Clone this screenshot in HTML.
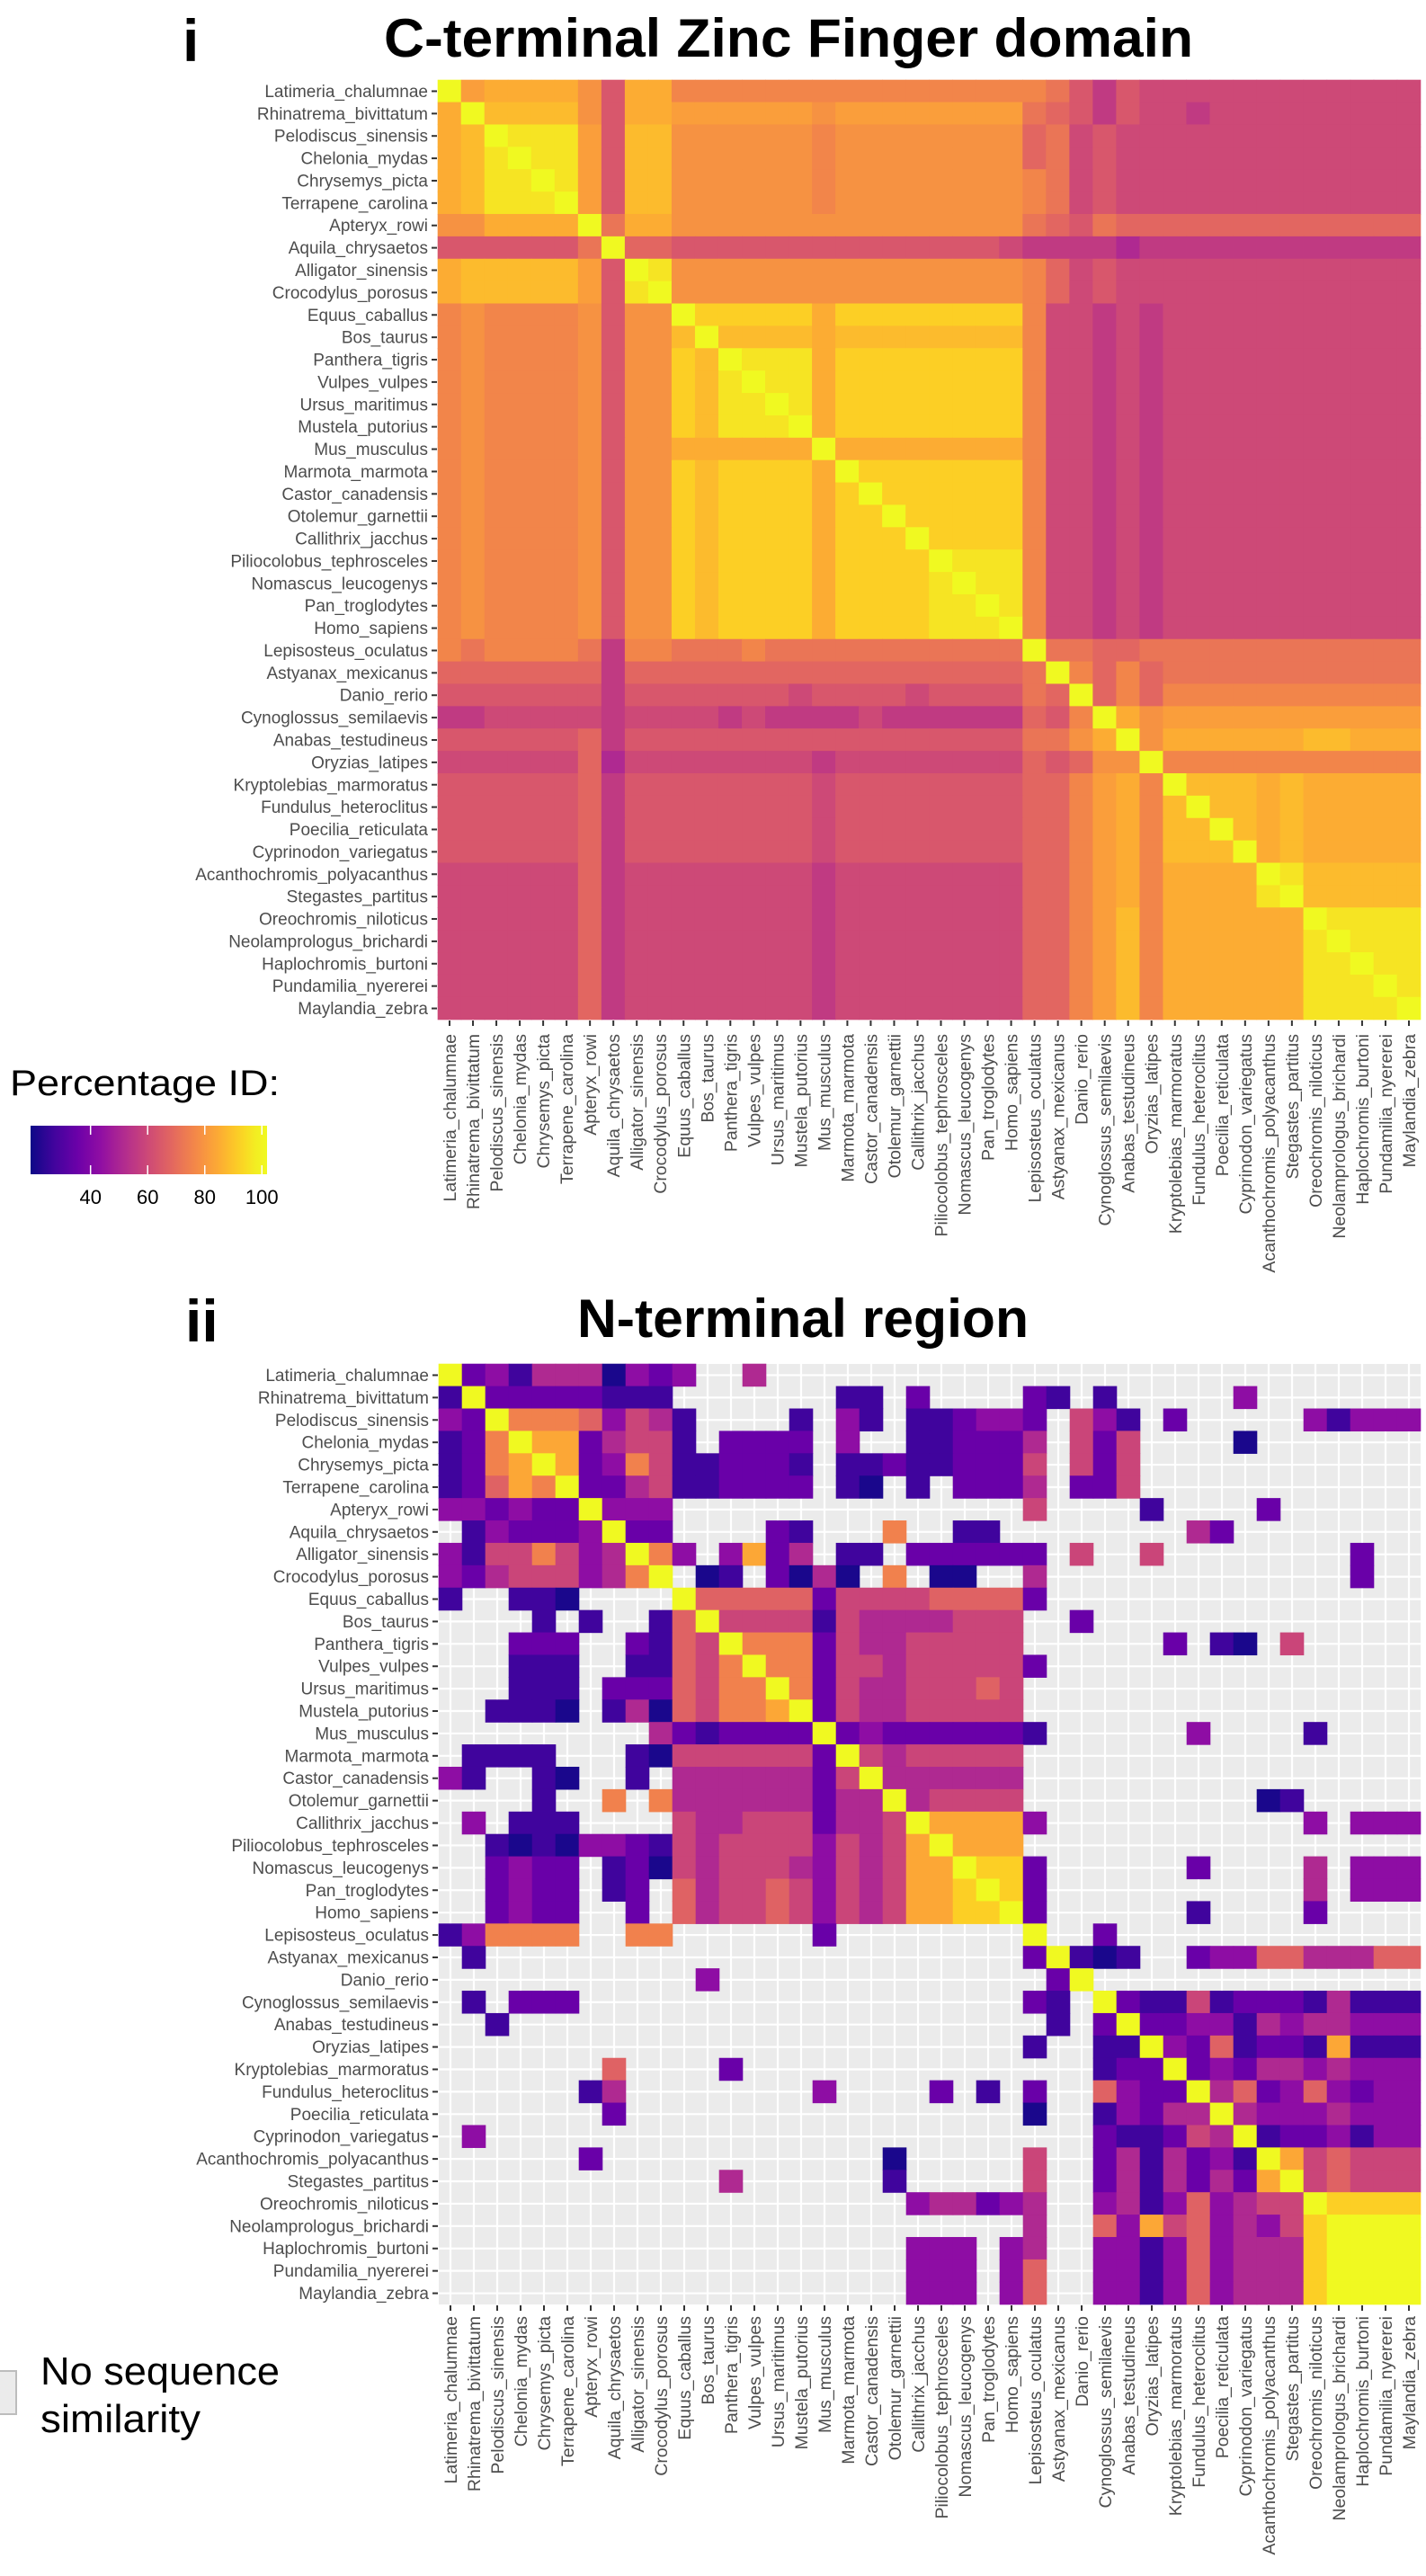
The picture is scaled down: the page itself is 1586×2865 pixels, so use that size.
<!DOCTYPE html>
<html><head><meta charset="utf-8"><title>Percentage ID heatmaps</title>
<style>
html,body{margin:0;padding:0;background:#fff;}
svg{display:block;}
text{font-family:"Liberation Sans",Arial,sans-serif;}
</style></head>
<body>
<svg id="chart" xmlns="http://www.w3.org/2000/svg" width="1586" height="2865" viewBox="0 0 1586 2865">
  <defs>
    <linearGradient id="plasmaGrad" x1="0" x2="1" y1="0" y2="0"></linearGradient>
  </defs>
  <text x="203" y="68" font-size="66" font-weight="bold" fill="#000">i</text>
  <text x="427" y="63" font-size="60" font-weight="bold" fill="#000" textLength="900" lengthAdjust="spacingAndGlyphs">C-terminal Zinc Finger domain</text>
  <text x="206" y="1492" font-size="66" font-weight="bold" fill="#000">ii</text>
  <text x="642" y="1487" font-size="60" font-weight="bold" fill="#000" textLength="502" lengthAdjust="spacingAndGlyphs">N-terminal region</text>
  <g id="heat1"></g>
  <g id="heat2"></g>
  <g id="legend1">
    <text x="11" y="1218" font-size="40" fill="#000" textLength="300" lengthAdjust="spacingAndGlyphs">Percentage ID:</text>
    <rect x="34" y="1252" width="263" height="54" fill="url(#plasmaGrad)"></rect>
  </g>
  <g id="legend2">
    <rect x="-2" y="2637" width="20" height="48" fill="#ebebeb" stroke="#bdbdbd" stroke-width="2"></rect>
    <text x="45" y="2652" font-size="44" fill="#000" textLength="266" lengthAdjust="spacingAndGlyphs">No sequence</text>
    <text x="45" y="2705" font-size="44" fill="#000" textLength="178" lengthAdjust="spacingAndGlyphs">similarity</text>
  </g>
</svg>
<script>
// ---------- DATA ----------
const species = ["Latimeria_chalumnae","Rhinatrema_bivittatum","Pelodiscus_sinensis","Chelonia_mydas","Chrysemys_picta","Terrapene_carolina","Apteryx_rowi","Aquila_chrysaetos","Alligator_sinensis","Crocodylus_porosus","Equus_caballus","Bos_taurus","Panthera_tigris","Vulpes_vulpes","Ursus_maritimus","Mustela_putorius","Mus_musculus","Marmota_marmota","Castor_canadensis","Otolemur_garnettii","Callithrix_jacchus","Piliocolobus_tephrosceles","Nomascus_leucogenys","Pan_troglodytes","Homo_sapiens","Lepisosteus_oculatus","Astyanax_mexicanus","Danio_rerio","Cynoglossus_semilaevis","Anabas_testudineus","Oryzias_latipes","Kryptolebias_marmoratus","Fundulus_heteroclitus","Poecilia_reticulata","Cyprinodon_variegatus","Acanthochromis_polyacanthus","Stegastes_partitus","Oreochromis_niloticus","Neolamprologus_brichardi","Haplochromis_burtoni","Pundamilia_nyererei","Maylandia_zebra"];

// percentage ID value for each cell code (C-terminal panel)
const cCodes = {Y:100,x:96,w:92,v:88,u:85,t:82,s:79,r:76,q:72,p:68,o:64,n:60,m:56,l:51};
// percentage ID value for each cell code (N-terminal panel), '.' = no similarity
const nCodes = {"0":21,"1":27,"2":35,"3":43,"4":51,"5":59,"6":67,"7":75,"8":84,"9":92,"Y":100};

const cTermRows = [
"Ytuuuusouu"+"rrrrrrrrrrrrrrr"+"rqomo"+"nnnnnnnnnnnn",
"uYvvvvsouu"+"ttttttstttttttt"+"qpomo"+"nnmnnnnnnnnn",
"uvYxxxtovv"+"ssssssrssssssss"+"pqnon"+"nnnnnnnnnnnn",
"uvxYxxtovv"+"ssssssrssssssss"+"pqnon"+"nnnnnnnnnnnn",
"uvxxYxtovv"+"ssssssrssssssss"+"rqnon"+"nnnnnnnnnnnn",
"uvxxxYtovv"+"ssssssrssssssss"+"rqnon"+"nnnnnnnnnnnn",
"ssuuuuYquu"+"sssssssssssssss"+"qpoqp"+"pppppppppppp",
"ooooooqYpp"+"oooooooooooooon"+"mmmml"+"mmmmmmmmmmmm",
"uvvvvvtoYx"+"sssssssssssssss"+"rpnon"+"nnnnnnnnnnnn",
"uvvvvvtoxY"+"sssssssssssssss"+"rpnon"+"nnnnnnnnnnnn",
"rsrrrrsoss"+"Ywwwwwuwwwwwwww"+"rnnmnmnnnnnnnnnnn",
"rsrrrrsoss"+"vYvvvvuvvvvvvvv"+"rnnmnmnnnnnnnnnnn",
"rsrrrrsoss"+"wvYxxxuwwwwwwww"+"rnnmnmnnnnnnnnnnn",
"rsrrrrsoss"+"wvxYxxuwwwwwwww"+"rnnmnmnnnnnnnnnnn",
"rsrrrrsoss"+"wvxxYxuwwwwwwww"+"rnnmnmnnnnnnnnnnn",
"rsrrrrsoss"+"wvxxxYuwwwwwwww"+"rnnmnmnnnnnnnnnnn",
"rsrrrrsoss"+"uuuuuuYuuuuuuuu"+"rnnmnmnnnnnnnnnnn",
"rsrrrrsoss"+"wvwwwwuYwwwwwww"+"rnnmnmnnnnnnnnnnn",
"rsrrrrsoss"+"wvwwwwuwYwwwwww"+"rnnmnmnnnnnnnnnnn",
"rsrrrrsoss"+"wvwwwwuwwYwwwww"+"rnnmnmnnnnnnnnnnn",
"rsrrrrsoss"+"wvwwwwuwwwYwwww"+"rnnmnmnnnnnnnnnnn",
"rsrrrrsoss"+"wvwwwwuwwwwYxxx"+"rnnmnmnnnnnnnnnnn",
"rsrrrrsoss"+"wvwwwwuwwwwxYxx"+"rnnmnmnnnnnnnnnnn",
"rsrrrrsoss"+"wvwwwwuwwwwxxYx"+"rnnmnmnnnnnnnnnnn",
"rsrrrrsoss"+"wvwwwwuwwwwxxxY"+"rnnmnmnnnnnnnnnnn",
"rqrrrrqmrr"+"qqqrqqqqqqqqqqq"+"Yqqpp"+"qqqqqqqqqqqq",
"pppppppmpp"+"ppppppppppppppp"+"qYrpr"+"pqqqqqqqqqqq",
"ooooooomoo"+"ooooonoooonoooo"+"qpYpr"+"prrrrrrrrrrr",
"mmnnnnnmnn"+"nnmnmmmmnmmmmmm"+"porYu"+"sttttttttttt",
"oooooopmoo"+"ooooooooooooooo"+"qqsuY"+"suuuuuuvvuuu",
"nnnnnnplnn"+"nnnnnnmnnnnnnnn"+"popss"+"Yrrrrrrrrrrr",
"oooooopmoo"+"oooooonoooooooo"+"pprtu"+"r"+"Yvvv"+"uv"+"uuuuu",
"oooooopmoo"+"oooooonoooooooo"+"pprtu"+"r"+"vYvv"+"uv"+"uuuuu",
"oooooopmoo"+"oooooonoooooooo"+"pprtu"+"r"+"vvYv"+"uv"+"uuuuu",
"oooooopmoo"+"oooooonoooooooo"+"pprtu"+"r"+"vvvY"+"uv"+"uuuuu",
"nnnnnnpmnn"+"nnnnnnmnnnnnnnn"+"pprtu"+"r"+"uuuu"+"Yx"+"vvvvv",
"nnnnnnpmnn"+"nnnnnnmnnnnnnnn"+"pprtu"+"r"+"uuuu"+"xY"+"vvvvv",
"nnnnnnpmnn"+"nnnnnnmnnnnnnnn"+"pprtv"+"r"+"uuuu"+"uu"+"Yxxxx",
"nnnnnnpmnn"+"nnnnnnmnnnnnnnn"+"pprtv"+"r"+"uuuu"+"uu"+"xYxxx",
"nnnnnnpmnn"+"nnnnnnmnnnnnnnn"+"pprtv"+"r"+"uuuu"+"uu"+"xxYxx",
"nnnnnnpmnn"+"nnnnnnmnnnnnnnn"+"pprtv"+"r"+"uuuu"+"uu"+"xxxYx",
"nnnnnnpmnn"+"nnnnnnmnnnnnnnn"+"pprtv"+"r"+"uuuu"+"uu"+"xxxxY"
];

const NA = n => ".".repeat(n);
const nTermRows = [
"Y2314440323"+"..4"+NA(28),
"1Y22222111"+NA(7)+"11.2"+"...."+"21.1"+NA(5)+"3"+NA(7),
"32Y77763541"+"...."+"1.31.1"+"12332"+"."+"531"+"."+"2"+NA(5)+"31333",
"127Y8824551"+"."+"2222"+"."+"3..1"+"12224"+"."+"525"+"...."+"0"+NA(7),
"1278Y823751"+"12221"+"."+"1121"+"12225"+"."+"525"+NA(12),
"12687Y22451"+"12222"+"."+"10.1"+".2224"+"."+"225"+NA(12),
"332322Y333"+NA(15)+"5"+"...."+"1"+"...."+"2"+NA(6),
".132223Y22"+"...."+"21"+"..."+"7"+".."+"11"+NA(8)+"42"+NA(8),
"31557534Y73"+"."+"3824"+"."+"11.2"+"22222"+"."+"5..5"+NA(8)+"2..",
"324555347Y"+"."+"01"+"."+"2040"+"."+"7"+"."+"00"+".."+"4"+NA(13)+"2..",
"1..110....Y"+"66666"+"2"+"5555"+"6666"+"2"+NA(16),
"....1.1..16Y"+"5555"+"1"+"5444"+"4555"+"..2"+NA(14),
"...222..2165Y"+"777"+"2"+"5445"+"5555"+NA(6)+"2.10.5"+NA(5),
"...111..11657Y77"+"2"+"5545"+"5555"+"2"+NA(16),
"...111.2226577Y7"+"2"+"5445"+"5565"+NA(17),
"..1110.14065778Y"+"2"+"5445"+"5555"+NA(17),
NA(9)+"4212222"+"Y"+"2322"+"22221"+NA(6)+"3"+"...."+"1"+"....",
".1111...10555555"+"2"+"Y545"+"5555"+NA(17),
"31..10..1.444444"+"2"+"5Y44"+"4444"+NA(17),
"....1..7.7444444"+"2"+"44Y4"+"5555"+NA(10)+"01"+NA(5),
".3.111....544555"+"2"+"445Y"+"8888"+"3"+NA(11)+"3"+"."+"333",
"..10103321"+"54555535458"+"Y888"+NA(17),
"..2322.120"+"54555435458"+"8Y99"+"2"+NA(6)+"2"+"...."+"4"+"."+"333",
"..2322.12."+"64556535458"+"89Y9"+"2"+NA(11)+"4"+"."+"333",
"..2322..2."+"64556535458"+"899Y"+"2"+NA(6)+"1"+"...."+"2"+"....",
"137777..77"+NA(6)+"2"+NA(8)+"Y"+".."+"2"+NA(13),
".1"+NA(23)+"2Y101"+".."+"2336644466",
NA(11)+"3"+NA(14)+"2Y"+NA(14),
".1.222"+NA(19)+"21.Y2115122214111",
"..1"+NA(23)+"1.2Y223314344333",
NA(25)+"1..11Y32612218111",
NA(7)+"6"+"...."+"2"+NA(15)+"122Y2324434333",
NA(6)+"14"+NA(8)+"3"+"...."+"2.1.2.."+"6322Y462363233",
NA(7)+"2"+NA(17)+"0.."+"13244Y43334333",
".3"+NA(26)+"211254Y1223133",
NA(6)+"2"+NA(12)+"0"+NA(5)+"5.."+"2414231Y856555",
NA(12)+"4"+NA(6)+"1"+NA(5)+"5.."+"24142428Y56555",
NA(20)+"3"+"44234"+".."+"341363455Y9999",
NA(25)+"4..6385634359YYYY",
NA(20)+"3"+"33.34"+".."+"3313634449YYYY",
NA(20)+"3"+"33.36"+".."+"3313634449YYYY",
NA(20)+"3"+"33.36"+".."+"3313634449YYYY"
];

const legendTicks = [40, 60, 80, 100];
const colorDomain = [19, 100];

// ---------- HELPERS ----------
const SVGNS = "http://www.w3.org/2000/svg";
const plasmaStops = ["#0d0887","#41049d","#6a00a8","#8f0da4","#b12a90","#cc4778","#e16462","#f2844b","#fca636","#fcce25","#f0f921"];
function hex2rgb(h){return [parseInt(h.substr(1,2),16),parseInt(h.substr(3,2),16),parseInt(h.substr(5,2),16)];}
function plasma(t){
  t=Math.max(0,Math.min(1,t));
  const p=t*(plasmaStops.length-1), i=Math.min(Math.floor(p),plasmaStops.length-2), f=p-i;
  const a=hex2rgb(plasmaStops[i]), b=hex2rgb(plasmaStops[i+1]);
  return "rgb("+a.map((v,k)=>Math.round(v+(b[k]-v)*f)).join(",")+")";
}
function colorFor(v){return plasma((v-colorDomain[0])/(colorDomain[1]-colorDomain[0]));}
function mk(tag, attrs, parent){
  const el=document.createElementNS(SVGNS,tag);
  for(const k in attrs) el.setAttribute(k,attrs[k]);
  parent.appendChild(el);
  return el;
}

function drawHeatmap(group, rows, codes, left, top, width, height, withGrid, xLabelTop, prefix){
  const n=species.length;
  const cw=width/n, rh=height/n;
  const xScale=i=>left+cw*i;
  const yScale=i=>top+rh*i;
  const bg=mk("rect",{x:left,y:top,width:width,height:height,fill:withGrid?"#ebebeb":"#ffffff"},group);
  
  
  if(withGrid){
    for(let i=0;i<n;i++){
      const gv=mk("line",{x1:xScale(i+0.5),x2:xScale(i+0.5),y1:top,y2:top+height,stroke:"#ffffff","stroke-width":2.2},group);
      
      
      const gh=mk("line",{x1:left,x2:left+width,y1:yScale(i+0.5),y2:yScale(i+0.5),stroke:"#ffffff","stroke-width":2.2},group);
      
      
    }
  }
  for(let r=0;r<n;r++){
    const row=rows[r]||"";
    for(let c=0;c<n;c++){
      const ch=row.charAt(c);
      if(!(ch in codes)) continue;
      const v=codes[ch];
      const cell=mk("rect",{x:xScale(c)-0.3,y:yScale(r)-0.3,width:cw+0.6,height:rh+0.6,fill:colorFor(v)},group);
      
      
      const tt=document.createElementNS(SVGNS,"title");
      tt.textContent=species[r]+" vs "+species[c]+": "+v+"%";
      cell.appendChild(tt);
    }
  }
  // y axis labels and ticks
  for(let r=0;r<n;r++){
    const y=yScale(r+0.5);
    const tk=mk("line",{x1:left-7,x2:left-1,y1:y,y2:y,stroke:"#333","stroke-width":2},group);
    
    
    const t=mk("text",{x:left-11,y:y+6.5,"text-anchor":"end","font-size":19,fill:"#4d4d4d"},group);
    t.textContent=species[r];
    
    
  }
  // x axis labels and ticks
  for(let c=0;c<n;c++){
    const x=xScale(c+0.5);
    const tk=mk("line",{x1:x,x2:x,y1:top+height+1,y2:top+height+7,stroke:"#333","stroke-width":2},group);
    
    
    const t=mk("text",{x:0,y:0,"text-anchor":"end","font-size":19.5,fill:"#4d4d4d",transform:"translate("+(x+7)+","+xLabelTop+") rotate(-90)"},group);
    t.textContent=species[c];
    
    
  }
}

drawHeatmap(document.getElementById("heat1"), cTermRows, cCodes, 487, 89, 1093, 1045, false, 1150, "cterm");
drawHeatmap(document.getElementById("heat2"), nTermRows, nCodes, 488, 1517, 1092, 1046, true, 2576, "nterm");

// ---------- colour bar legend ----------
(function(){
  const grad=document.getElementById("plasmaGrad");
  const barMin=19, barMax=101.8, bx=34, bw=263, by=1252, bh=54;
  for(let i=0;i<=20;i++){
    const v=barMin+(barMax-barMin)*i/20;
    mk("stop",{offset:(i*5)+"%","stop-color":colorFor(v)},grad);
  }
  const lg=document.getElementById("legend1");
  const xs=v=>bx+(v-barMin)/(barMax-barMin)*bw;
  legendTicks.forEach(v=>{
    const x=xs(v);
    const t1=mk("line",{x1:x,x2:x,y1:by,y2:by+10,stroke:"#fff","stroke-width":1.5},lg);
    
    
    const t2=mk("line",{x1:x,x2:x,y1:by+bh-10,y2:by+bh,stroke:"#fff","stroke-width":1.5},lg);
    
    
    const lab=mk("text",{x:x,y:1339,"text-anchor":"middle","font-size":22,fill:"#000"},lg);
    lab.textContent=String(v);
    
    
  });
})();
</script>
</body></html>
